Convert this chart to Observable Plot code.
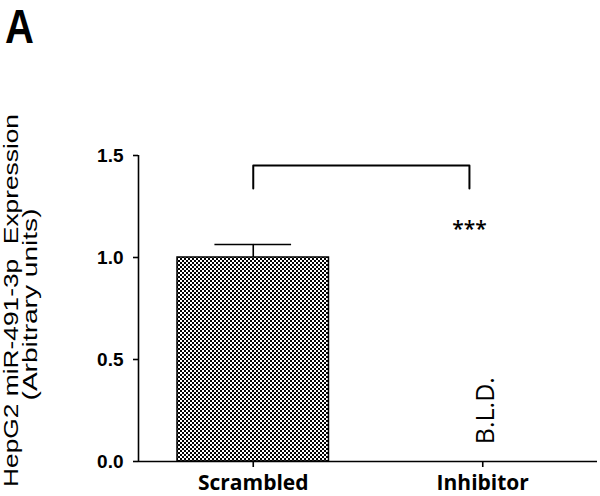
<!DOCTYPE html>
<html><head><meta charset="utf-8">
<script src="https://cdn.jsdelivr.net/npm/d3@7"></script>
<script src="https://cdn.jsdelivr.net/npm/@observablehq/plot@0.6"></script>
<style>
body{margin:0;background:#fff;}
#wrap{position:relative;width:600px;height:496px;}
#panel{position:absolute;left:5px;top:0px;font-family:"Liberation Sans",Arial,sans-serif;font-weight:bold;font-size:40px;line-height:1.12;transform:scaleY(1.2);transform-origin:top left;}
#chart svg{display:block;}
</style></head><body>
<div id="wrap"><div id="chart"></div><div id="panel">A</div></div>
<script>
// ---- data ----
const categories = ["Scrambled", "Inhibitor"];
const means = [1.0, null];          // Inhibitor is below the limit of detection
const sems = [0.064, null];
const notes = ["", "B.L.D."];
const yTicks = [0, 0.5, 1.0, 1.5];
const comparison = ["Scrambled", "Inhibitor"];
const significance = ["***"];
const yLabelLines = ["HepG2 miR-491-3p  Expression", "(Arbitrary units)"];

const rows = categories.map((c, i) => ({i, c, mean: means[i], sem: sems[i], note: notes[i]}));
const detected = rows.filter(d => d.mean != null);
const ci = comparison.map(c => categories.indexOf(c));
const bracketLow = 1.338, bracketHigh = 1.451, rightShift = 0.058;
const bracket = [
  {x: ci[0], y: bracketLow}, {x: ci[0], y: bracketHigh},
  {x: ci[1] - rightShift, y: bracketHigh}, {x: ci[1] - rightShift, y: bracketLow}
];

const plot = Plot.plot({
  width: 600, height: 496,
  marginLeft: 138, marginRight: 3, marginTop: 155, marginBottom: 35,
  x: {type: "linear", domain: [-0.5, 1.5], axis: null},
  y: {domain: [0, 1.5], axis: null},
  style: {background: "white", color: "black", overflow: "visible"},
  marks: [
    Plot.rectY(detected, {x1: d => d.i - 0.33, x2: d => d.i + 0.33, y1: 0, y2: "mean",
      fill: "black", stroke: "black", strokeWidth: 1.5}),
    Plot.ruleX(detected, {x: "i", y1: "mean", y2: d => d.mean + d.sem, strokeWidth: 1.6}),
    Plot.ruleY(detected, {x1: d => d.i - 0.167, x2: d => d.i + 0.167, y: d => d.mean + d.sem, strokeWidth: 1.6}),
    Plot.ruleX([-0.5], {y1: 0, y2: 1.5, strokeWidth: 1.6}),
    Plot.ruleY([0], {strokeWidth: 1.6}),
    Plot.axisY({ticks: yTicks, tickFormat: d => d.toFixed(1), tickSize: 5, tickPadding: 10, label: null,
      fontSize: 19, fontWeight: "bold", fontFamily: "Liberation Sans, Arial, sans-serif", strokeWidth: 1.6}),
    Plot.axisX({ticks: categories.map((c, i) => i), tickFormat: i => categories[i], tickSize: 6, tickPadding: 8, label: null,
      fontSize: 21, fontWeight: "bold", fontFamily: "Open Sans, sans-serif", strokeWidth: 1.6}),
    Plot.line(bracket, {x: "x", y: "y", stroke: "black", strokeWidth: 2, strokeLinejoin: "round"}),
    Plot.text(significance, {x: ci[1] - rightShift, y: 1.136, text: d => d, fontSize: 21, fontWeight: 600, fontFamily: "Open Sans, sans-serif"}),
    Plot.text(rows.filter(d => d.note), {x: "i", y: 0.085, text: "note", rotate: -90, textAnchor: "start",
      dx: 3, fontSize: 25, fontFamily: "Open Sans, sans-serif"}),
    Plot.text([yLabelLines[0]], {frameAnchor: "left", textAnchor: "middle", text: d => d, rotate: -90, dx: -127.5, dy: -8,
      fontSize: 21, fontFamily: "Liberation Sans, Arial, sans-serif"}),
    Plot.text([yLabelLines[1]], {frameAnchor: "left", textAnchor: "middle", text: d => d, rotate: -90, dx: -108.7, dy: -4,
      fontSize: 21, fontFamily: "Liberation Sans, Arial, sans-serif"})
  ]
});

const svg = d3.select(plot);
const barRects = svg.selectAll("rect");
const defs = svg.insert("defs", ":first-child");
const pat = defs.append("pattern").attr("id", "checker").attr("width", 4).attr("height", 4).attr("patternUnits", "userSpaceOnUse");
pat.append("rect").attr("width", 4).attr("height", 4).attr("fill", "black");
pat.append("rect").attr("width", 2).attr("height", 2).attr("fill", "white");
pat.append("rect").attr("x", 2).attr("y", 2).attr("width", 2).attr("height", 2).attr("fill", "white");
barRects.attr("fill", "url(#checker)");
const stretch = {[yLabelLines[0]]: 373, [yLabelLines[1]]: 192};
svg.selectAll("text").each(function() {
  const len = stretch[this.textContent];
  if (len) d3.select(this).attr("textLength", len).attr("lengthAdjust", "spacingAndGlyphs");
});

document.getElementById("chart").appendChild(plot);
</script>
</body></html>
